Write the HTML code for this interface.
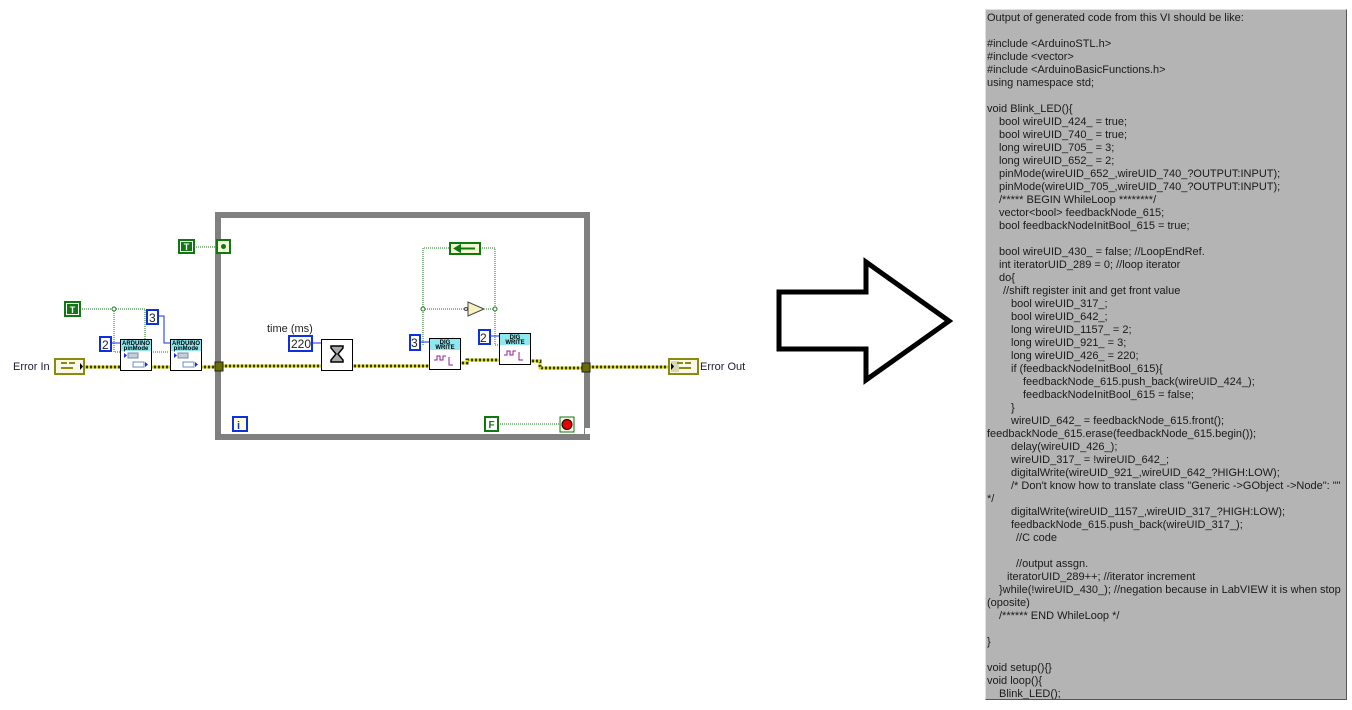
<!DOCTYPE html>
<html><head><meta charset="utf-8"><style>
body{margin:0;width:1352px;height:710px;background:#fff;position:relative;overflow:hidden;font-family:"Liberation Sans",sans-serif}
#code{position:absolute;left:985px;top:9px;width:362px;height:691px;background:#b4b4b4;border-left:1px solid #e0e0e0;border-top:1px solid #e0e0e0;border-right:1px solid #555;border-bottom:1px solid #555;box-sizing:border-box;font-size:11px;line-height:13px;color:#1a1a1a;padding:2px 0 0 1px;overflow:hidden}
#code div{white-space:nowrap;height:13px}
.a{padding-left:12px}.b{padding-left:16px}.c{padding-left:24px}.d{padding-left:36px}.e{padding-left:29px}.f{padding-left:20px}
</style></head><body>
<svg width="980" height="710" style="position:absolute;left:0;top:0" font-family="Liberation Sans, sans-serif">
<rect x="218" y="215" width="369" height="222" fill="none" stroke="#808080" stroke-width="6"/>
<rect x="585" y="428" width="8" height="6" fill="#fff"/>
<g stroke-width="3">
<path d="M84 367H120M152 367H170M202 367H215M223 366H321M352 366H429M460 363H467V360H499M530 361H540V368H583M590 367H668" fill="none" stroke="#3a3a00"/>
<path d="M84 367H120M152 367H170M202 367H215M223 366H321M352 366H429M460 363H467V360H499M530 361H540V368H583M590 367H668" fill="none" stroke="#d8d800" stroke-dasharray="2 2"/>
</g>
<g stroke="#1a7a1a" stroke-width="1" stroke-dasharray="1 1" fill="none">
<path d="M80 309H145V352H168M114 309V352H120M194 247H216"/>
<path d="M423 345V248H449M480 248H495V345H499M423 309H466M486 309H495M498 424H559"/>
</g>
<circle cx="114" cy="309" r="2" fill="#fff" stroke="#1a7a1a"/>
<circle cx="423" cy="309" r="2" fill="#fff" stroke="#1a7a1a"/>
<circle cx="495" cy="309" r="2" fill="#fff" stroke="#1a7a1a"/>
<g stroke="#1030e0" stroke-width="1" fill="none">
<path d="M111 343H120M158 316H164V343H170M312 343H321M420 342H429M490 336H499"/>
</g>
<g>
<rect x="65" y="302" width="15" height="14" fill="#fff" stroke="#117711" stroke-width="2"/><rect x="67" y="304" width="11" height="10" fill="#117711"/><text x="72.5" y="313" font-size="9" font-weight="bold" fill="#fff" text-anchor="middle">T</text>
<rect x="179" y="240" width="15" height="13" fill="#fff" stroke="#117711" stroke-width="2"/><rect x="181" y="242" width="11" height="9" fill="#117711"/><text x="186.5" y="250" font-size="9" font-weight="bold" fill="#fff" text-anchor="middle">T</text>
<rect x="217" y="240" width="13" height="13" fill="#f4f8d8" stroke="#117711" stroke-width="2"/><circle cx="223.5" cy="246.5" r="2.5" fill="#117711"/>
<rect x="485" y="417" width="13" height="14" fill="#fff" stroke="#117711" stroke-width="2"/><text x="491.5" y="428" font-size="10" font-weight="bold" fill="#117711" text-anchor="middle">F</text>
<rect x="560" y="417" width="14" height="15" fill="#f8f8e0" stroke="#117711" stroke-width="1"/><circle cx="567" cy="424.5" r="5" fill="#e00" stroke="#000" stroke-width="1"/>
</g>
<g font-size="12" fill="#222" stroke-width="2">
<rect x="100" y="337" width="11" height="14" fill="#fff" stroke="#1030e0"/><text x="102" y="349">2</text>
<rect x="147" y="310" width="11" height="14" fill="#fff" stroke="#1030e0"/><text x="149" y="322">3</text>
<rect x="289" y="336" width="23" height="15" fill="#fff" stroke="#1030e0"/><text x="291" y="348">220</text>
<rect x="410" y="335" width="10" height="15" fill="#fff" stroke="#1030e0"/><text x="411" y="347">3</text>
<rect x="479" y="330" width="11" height="14" fill="#fff" stroke="#1030e0"/><text x="480" y="342">2</text>
<rect x="233" y="417" width="14" height="14" fill="#ffffe0" stroke="#1030e0"/><text x="237" y="429" font-weight="bold" fill="#1030e0" font-size="11">i</text>
</g>
<text x="267" y="332" font-size="11" fill="#222">time (ms)</text>
<g font-size="6" font-weight="bold" fill="#000">
<rect x="120.5" y="339.5" width="31" height="31" fill="#fff" stroke="#000"/><rect x="121" y="340" width="30" height="11" fill="#8ee8f0"/><text x="136" y="345" text-anchor="middle">ARDUINO</text><text x="136" y="350" text-anchor="middle">pinMode</text>
<rect x="128" y="353" width="10" height="5" fill="#ccc" stroke="#6b8fc0"/><rect x="133" y="362" width="11" height="5" fill="#fff" stroke="#6b8fc0"/><path d="M124 353l3 2.5-3 2.5z M145 362l3 2.5-3 2.5z" fill="#1030e0"/>
<rect x="170.5" y="339.5" width="31" height="31" fill="#fff" stroke="#000"/><rect x="171" y="340" width="30" height="11" fill="#8ee8f0"/><text x="186" y="345" text-anchor="middle">ARDUINO</text><text x="186" y="350" text-anchor="middle">pinMode</text>
<rect x="178" y="353" width="10" height="5" fill="#ccc" stroke="#6b8fc0"/><rect x="183" y="362" width="11" height="5" fill="#fff" stroke="#6b8fc0"/><path d="M174 353l3 2.5-3 2.5z M195 362l3 2.5-3 2.5z" fill="#1030e0"/>
<rect x="429.5" y="338.5" width="31" height="31" fill="#fff" stroke="#000"/><rect x="430" y="339" width="30" height="11" fill="#8ee8f0"/><text x="445" y="344" text-anchor="middle">DIG</text><text x="445" y="349" text-anchor="middle">WRITE</text>
<path d="M434 360h3v-4h3v4h3v-4h3M449 357v8h4" fill="none" stroke="#902090" stroke-width="1"/>
<rect x="499.5" y="333.5" width="31" height="31" fill="#fff" stroke="#000"/><rect x="500" y="334" width="30" height="11" fill="#8ee8f0"/><text x="515" y="339" text-anchor="middle">DIG</text><text x="515" y="344" text-anchor="middle">WRITE</text>
<path d="M504 355h3v-4h3v4h3v-4h3M519 352v8h4" fill="none" stroke="#902090" stroke-width="1"/>
</g>
<rect x="321.5" y="339.5" width="31" height="31" fill="#fff" stroke="#000"/>
<path d="M331 346h12v2l-5 6 5 6v2h-12v-2l5-6-5-6z" fill="#aaa" stroke="#000" stroke-width="1.5"/>
<rect x="450" y="243" width="30" height="11" fill="#f4f8d0" stroke="#117711" stroke-width="2"/><path d="M455 248.5h20M455 248.5l5-3v6z" stroke="#117711" stroke-width="2" fill="#117711"/>
<path d="M468 302v14l16-7z" fill="#f6f2c0" stroke="#444"/><circle cx="466" cy="309" r="1.5" fill="#fff" stroke="#444"/>
<rect x="215" y="362" width="8" height="9" fill="#6b6b00" stroke="#222"/>
<rect x="582" y="363" width="8" height="9" fill="#6b6b00" stroke="#222"/>
<rect x="55" y="359" width="29" height="15" fill="#f8f8e8" stroke="#8a8a10" stroke-width="2"/><path d="M61 363h6M69 363h6M61 368h12" stroke="#8a8a10" stroke-width="2"/><path d="M80 363l3 3.5-3 3.5z" fill="#000"/>
<rect x="669" y="359" width="29" height="15" fill="#f8f8e8" stroke="#8a8a10" stroke-width="2"/><rect x="671" y="361" width="8" height="11" fill="#d8d8b0"/><path d="M677 363h6M685 363h6M679 368h12" stroke="#8a8a10" stroke-width="2"/><path d="M671 363l3 3.5-3 3.5z" fill="#000"/>
<text x="13" y="370" font-size="11" fill="#1a1a3a">Error In</text>
<text x="700" y="370" font-size="11" fill="#1a1a3a">Error Out</text>
<path d="M779 292H866V262L949 321L866 380V349H779Z" fill="#fff" stroke="#000" stroke-width="5" stroke-linejoin="miter"/>
</svg>
<div id="code">
<div>Output of generated code from this VI should be like:</div>
<div></div>
<div>#include &lt;ArduinoSTL.h&gt;</div>
<div>#include &lt;vector&gt;</div>
<div>#include &lt;ArduinoBasicFunctions.h&gt;</div>
<div>using namespace std;</div>
<div></div>
<div>void Blink_LED(){</div>
<div class="a">bool wireUID_424_ = true;</div>
<div class="a">bool wireUID_740_ = true;</div>
<div class="a">long wireUID_705_ = 3;</div>
<div class="a">long wireUID_652_ = 2;</div>
<div class="a">pinMode(wireUID_652_,wireUID_740_?OUTPUT:INPUT);</div>
<div class="a">pinMode(wireUID_705_,wireUID_740_?OUTPUT:INPUT);</div>
<div class="a">/***** BEGIN WhileLoop ********/</div>
<div class="a">vector&lt;bool&gt; feedbackNode_615;</div>
<div class="a">bool feedbackNodeInitBool_615 = true;</div>
<div></div>
<div class="a">bool wireUID_430_ = false; //LoopEndRef.</div>
<div class="a">int iteratorUID_289 = 0; //loop iterator</div>
<div class="a">do{</div>
<div class="b">//shift register init and get front value</div>
<div class="c">bool wireUID_317_;</div>
<div class="c">bool wireUID_642_;</div>
<div class="c">long wireUID_1157_ = 2;</div>
<div class="c">long wireUID_921_ = 3;</div>
<div class="c">long wireUID_426_ = 220;</div>
<div class="c">if (feedbackNodeInitBool_615){</div>
<div class="d">feedbackNode_615.push_back(wireUID_424_);</div>
<div class="d">feedbackNodeInitBool_615 = false;</div>
<div class="c">}</div>
<div class="c">wireUID_642_ = feedbackNode_615.front();</div>
<div>feedbackNode_615.erase(feedbackNode_615.begin());</div>
<div class="c">delay(wireUID_426_);</div>
<div class="c">wireUID_317_ = !wireUID_642_;</div>
<div class="c">digitalWrite(wireUID_921_,wireUID_642_?HIGH:LOW);</div>
<div class="c">/* Don't know how to translate class "Generic -&gt;GObject -&gt;Node": ""</div>
<div>*/</div>
<div class="c">digitalWrite(wireUID_1157_,wireUID_317_?HIGH:LOW);</div>
<div class="c">feedbackNode_615.push_back(wireUID_317_);</div>
<div class="e">//C code</div>
<div></div>
<div class="e">//output assgn.</div>
<div class="f">iteratorUID_289++; //iterator increment</div>
<div class="a">}while(!wireUID_430_); //negation because in LabVIEW it is when stop</div>
<div>(oposite)</div>
<div class="a">/****** END WhileLoop */</div>
<div></div>
<div>}</div>
<div></div>
<div>void setup(){}</div>
<div>void loop(){</div>
<div class="a">Blink_LED();</div>
</div>
</body></html>
